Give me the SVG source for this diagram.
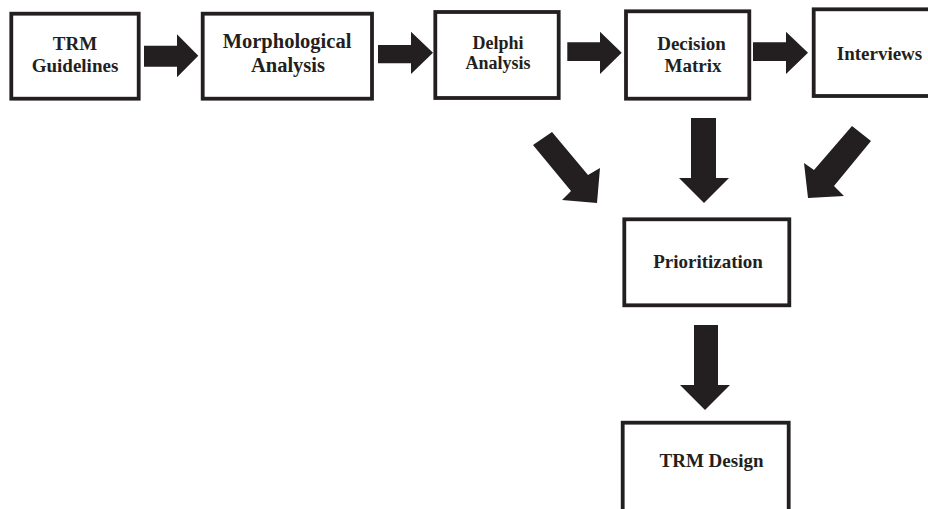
<svg xmlns="http://www.w3.org/2000/svg" width="928" height="509" viewBox="0 0 928 509">
<style>
.box{fill:#ffffff;stroke:#231f20;stroke-width:3.8}
.lbl{font-family:"Liberation Serif","Times New Roman",serif;font-weight:bold;font-size:19px;fill:#231f20;text-anchor:middle}
.arr{fill:#231f20;stroke:none}
</style>
<rect width="928" height="509" fill="#ffffff"/>
<g id="connectors">
<polygon class="arr" points="144,45.7 177,45.7 177,34.3 198.3,55.8 177,77.3 177,66.7 144,66.7"/>
<polygon class="arr" points="378,45 411,45 411,31.7 433,52.8 411,74 411,63.3 378,63.3"/>
<polygon class="arr" points="567.3,42.3 600,42.3 600,31.7 621.7,52.8 600,74 600,61 567.3,61"/>
<polygon class="arr" points="753,42.3 786,42.3 786,31.7 808,52.8 786,74 786,61 753,61"/>
<polygon class="arr" points="533,145 552,132 588,175 600,168 597,203 562,200 571,191"/>
<polygon class="arr" points="691,118 716,118 716,178 729,178 704,203 679,178 691,178"/>
<polygon class="arr" points="852,126 871,141 834,186 844,196 808,198 804,163 814,170"/>
<polygon class="arr" points="694,325 718,325 718,385 730,385 705,410 680,385 694,385"/>
</g>
<g id="trm-guidelines">
<rect class="box" x="11.3" y="13.7" width="127.4" height="85"/>
<text class="lbl" x="75" y="50">TRM</text>
<text class="lbl" x="75" y="72">Guidelines</text>
</g>
<g id="morphological-analysis">
<rect class="box" x="202.7" y="13.7" width="169.3" height="85"/>
<text class="lbl" x="287" y="48" style="font-size:20.5px">Morphological</text>
<text class="lbl" x="288" y="72" style="font-size:20.5px">Analysis</text>
</g>
<g id="delphi-analysis">
<rect class="box" x="435.3" y="12" width="123.4" height="86"/>
<text class="lbl" x="498" y="49" style="font-size:18px">Delphi</text>
<text class="lbl" x="498" y="69" style="font-size:18px">Analysis</text>
</g>
<g id="decision-matrix">
<rect class="box" x="626" y="11.3" width="123.3" height="87.4"/>
<text class="lbl" x="691.5" y="50">Decision</text>
<text class="lbl" x="693" y="72">Matrix</text>
</g>
<g id="interviews">
<rect class="box" x="813.7" y="9.3" width="200" height="86.7"/>
<text class="lbl" x="879.5" y="60">Interviews</text>
</g>
<g id="prioritization">
<rect class="box" x="624.3" y="219.3" width="165" height="86"/>
<text class="lbl" x="708" y="268">Prioritization</text>
</g>
<g id="trm-design">
<rect class="box" x="622.7" y="422.7" width="166" height="100"/>
<text class="lbl" x="711.5" y="467">TRM Design</text>
</g>
</svg>
